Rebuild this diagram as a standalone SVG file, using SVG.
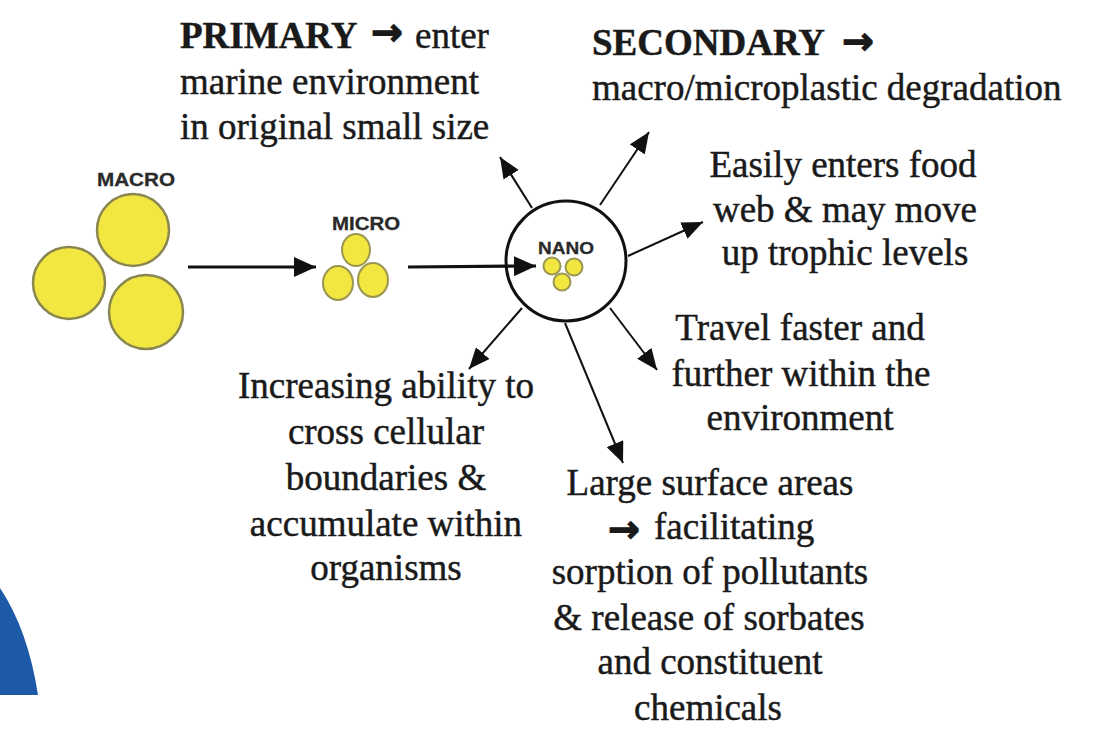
<svg xmlns="http://www.w3.org/2000/svg" width="1110" height="733" viewBox="0 0 1110 733">
<defs>
<style>
.lbl{font-family:"Liberation Serif","Times New Roman",serif;font-size:37px;fill:#1a1a1a;stroke:#1a1a1a;stroke-width:0.45px}
.c{text-anchor:middle}
.b{font-weight:bold}
.arr{font-family:"DejaVu Sans",sans-serif;font-weight:bold;font-size:38px;stroke-width:1.2px}
.tag{font-family:"Liberation Sans",Arial,sans-serif;font-weight:bold;font-size:18px;fill:#2a2a2a;text-anchor:middle;stroke:#2a2a2a;stroke-width:0.3px}
.pl{fill:#f2e640;stroke:#8a8650;stroke-width:2.5}
.pls{fill:#f2e640;stroke:#9a9650;stroke-width:2}
.main{stroke:#111;stroke-width:3.2;fill:none}
.rad{stroke:#111;stroke-width:2;fill:none}
</style>
<marker id="hm" markerUnits="userSpaceOnUse" markerWidth="24" markerHeight="20" refX="22" refY="10" orient="auto"><path d="M0,0 L22,10 L0,20 z" fill="#111"/></marker>
<marker id="hr" markerUnits="userSpaceOnUse" markerWidth="22" markerHeight="18" refX="21" refY="9" orient="auto"><path d="M0,0 L21,9 L0,18 z" fill="#111"/></marker>
</defs>
<rect width="1110" height="733" fill="#ffffff"/>
<path id="blue-shape" d="M0,588 Q28,630 38,695 L0,695 Z" fill="#1c5aa8"/>
<g id="macro">
<text class="tag" x="136" y="186" textLength="78" lengthAdjust="spacingAndGlyphs">MACRO</text>
<circle class="pl" cx="133" cy="230" r="36"/>
<circle class="pl" cx="69" cy="283" r="36"/>
<circle class="pl" cx="146" cy="312" r="37"/>
</g>
<g id="micro">
<text class="tag" x="366" y="230" textLength="68" lengthAdjust="spacingAndGlyphs">MICRO</text>
<ellipse class="pls" cx="356" cy="250" rx="14" ry="16"/>
<ellipse class="pls" cx="338" cy="283" rx="15" ry="17"/>
<ellipse class="pls" cx="373" cy="280" rx="15" ry="17"/>
</g>
<g id="nano">
<circle cx="566" cy="261" r="60" fill="#fff" stroke="#111" stroke-width="3"/>
<text class="tag" x="566" y="254" textLength="56" lengthAdjust="spacingAndGlyphs" style="font-size:17px">NANO</text>
<circle class="pls" cx="552" cy="266" r="8.5"/>
<circle class="pls" cx="574" cy="267" r="8.5"/>
<circle class="pls" cx="562" cy="282" r="8.5"/>
</g>
<g id="connectors">
<line class="main" x1="188" y1="267" x2="316" y2="267" marker-end="url(#hm)"/>
<line class="main" x1="408" y1="267" x2="536" y2="266" marker-end="url(#hm)"/>
<line class="rad" x1="532" y1="208" x2="500" y2="157" marker-end="url(#hr)"/>
<line class="rad" x1="600" y1="205" x2="649" y2="132" marker-end="url(#hr)"/>
<line class="rad" x1="628" y1="256" x2="703" y2="222" marker-end="url(#hr)"/>
<line class="rad" x1="522" y1="308" x2="469" y2="369" marker-end="url(#hr)"/>
<line class="rad" x1="565" y1="323" x2="623" y2="463" marker-end="url(#hr)"/>
<line class="rad" x1="610" y1="308" x2="657" y2="370" marker-end="url(#hr)"/>
</g>
<g id="primary">
<text class="lbl" x="180" y="48"><tspan class="b">PRIMARY</tspan><tspan class="arr" x="371" dy="-3">→</tspan><tspan x="415" dy="3">enter</tspan></text>
<text class="lbl" x="180" y="94">marine environment</text>
<text class="lbl" x="180" y="139">in original small size</text>
</g>
<g id="secondary">
<text class="lbl" x="592" y="55"><tspan class="b">SECONDARY</tspan><tspan class="arr" x="842" dy="-1">→</tspan></text>
<text class="lbl" x="592" y="100">macro/microplastic degradation</text>
</g>
<g id="food-web">
<text class="lbl c" x="843" y="177">Easily enters food</text>
<text class="lbl c" x="845" y="222">web &amp; may move</text>
<text class="lbl c" x="845" y="265">up trophic levels</text>
</g>
<g id="travel">
<text class="lbl c" x="800" y="340">Travel faster and</text>
<text class="lbl c" x="801" y="386">further within the</text>
<text class="lbl c" x="800" y="430">environment</text>
</g>
<g id="cellular">
<text class="lbl c" x="386" y="398">Increasing ability to</text>
<text class="lbl c" x="386" y="444">cross cellular</text>
<text class="lbl c" x="386" y="490">boundaries &amp;</text>
<text class="lbl c" x="386" y="536">accumulate within</text>
<text class="lbl c" x="386" y="580">organisms</text>
</g>
<g id="surface">
<text class="lbl c" x="710" y="495">Large surface areas</text>
<text class="lbl" x="608" y="539"><tspan class="arr" dy="3">→</tspan><tspan x="654" dy="-3">facilitating</tspan></text>
<text class="lbl c" x="710" y="584">sorption of pollutants</text>
<text class="lbl c" x="709" y="630">&amp; release of sorbates</text>
<text class="lbl c" x="710" y="674">and constituent</text>
<text class="lbl c" x="708" y="720">chemicals</text>
</g>
</svg>
